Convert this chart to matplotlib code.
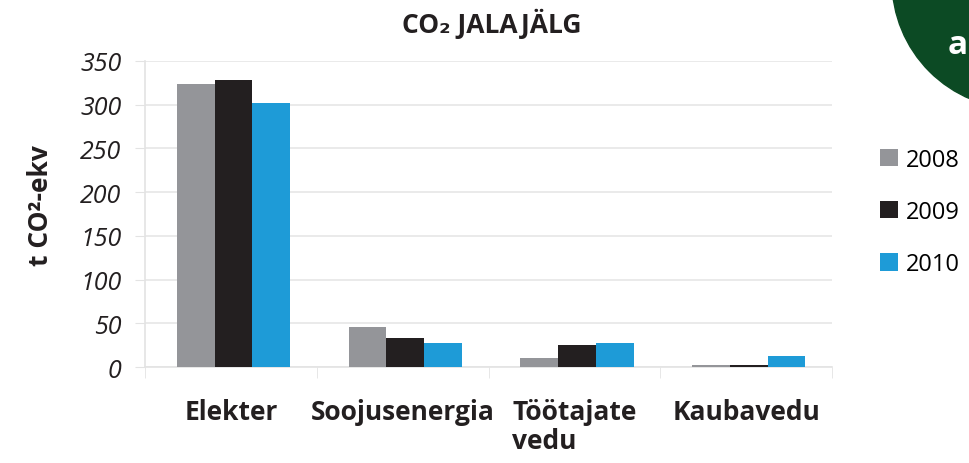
import numpy as np
import matplotlib
matplotlib.use('Agg')
import matplotlib.pyplot as plt
from matplotlib.patches import Ellipse

plt.rcParams['font.family'] = ['Open Sans', 'DejaVu Sans']

categories = ['Elekter', 'Soojusenergia', 'Töötajate\nvedu', 'Kaubavedu']
years = ['2008', '2009', '2010']
v2008 = [324, 46, 10, 2.5]
v2009 = [328, 33, 25, 2]
v2010 = [302, 27, 28, 12.5]
colors = ['#949599', '#231f20', '#1e9bd7']
yticks = [0, 50, 100, 150, 200, 250, 300, 350]

fig = plt.figure(figsize=(9.69, 4.64), dpi=100)
ax = fig.add_axes([145 / 969, 1 - 368 / 464, 687 / 969, 306 / 464])

x = np.arange(len(categories))
w = 0.22
for i, (vals, c, lab) in enumerate(zip([v2008, v2009, v2010], colors, years)):
    ax.bar(x + (i - 1) * w + 0.015, vals, width=w, color=c, label=lab, zorder=3)

ax.set_xlim(-0.5, len(categories) - 0.5)
ax.set_ylim(0, 350)
ax.set_yticks(yticks)
ax.set_yticklabels([str(t) for t in yticks], fontsize=18, style='italic', color='#231f20')
ax.tick_params(axis='y', length=7, color='#e3e3e3', pad=10)

ax.set_xticks(x)
ax.set_xticklabels(categories, fontsize=19, fontweight='bold', color='#231f20',
                   multialignment='left', linespacing=1.1)
ax.tick_params(axis='x', which='major', length=0, pad=22)
ax.set_xticks(np.arange(len(categories) + 1) - 0.5, minor=True)
ax.tick_params(axis='x', which='minor', length=8, color='#e3e3e3')

ax.grid(axis='y', color='#e6e6e6', linewidth=1.2, zorder=0)
for s in ['top', 'right']:
    ax.spines[s].set_visible(False)
ax.spines['left'].set_color('#e3e3e3')
ax.spines['bottom'].set_color('#e3e3e3')
ax.spines['left'].set_linewidth(1.2)
ax.spines['bottom'].set_linewidth(1.2)

fig.text(0.507, 0.948, 'CO₂ JALAJÄLG', ha='center', va='center',
         fontsize=19, fontweight='bold', color='#231f20')
fig.text(40 / 969, 0.558, 't CO²-ekv', rotation=90, ha='center', va='center',
         fontsize=19, fontweight='bold', color='#231f20')

fig.legend(loc='center left', bbox_to_anchor=(880 / 969, 0.541), frameon=False,
           fontsize=17, handlelength=0.75, handleheight=0.75, handletextpad=0.35,
           labelspacing=1.2, borderpad=0, borderaxespad=0)

circ = Ellipse((1020 / 969, 1 + 18 / 464), 256 / 969, 256 / 464,
               transform=fig.transFigure, color='#0c4a24', zorder=10)
fig.add_artist(circ)
fig.text(958 / 969, 1 - 45 / 464, 'a', ha='center', va='center', fontsize=24,
         fontweight='bold', color='white', zorder=11)

fig.savefig('out.png', dpi=100)
